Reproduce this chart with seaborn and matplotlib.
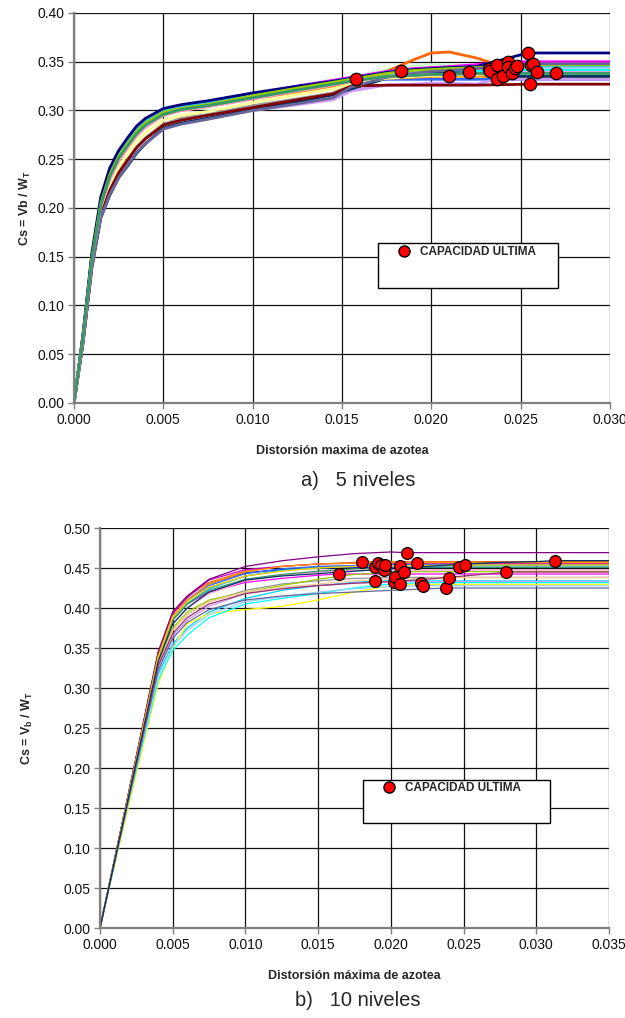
import numpy as np
import pandas as pd
import matplotlib
matplotlib.use("Agg")
import matplotlib.pyplot as plt
from matplotlib.lines import Line2D
from matplotlib.patches import Rectangle
import seaborn as sns

# ---------------- data: panel a) 5 niveles ----------------
knots_a = [0, 0.0005, 0.001, 0.0015, 0.002, 0.0025, 0.003, 0.0035, 0.004, 0.005, 0.006,
           0.0075, 0.010, 0.0125, 0.0145, 0.0155, 0.0175, 0.019, 0.020, 0.021, 0.0225]
xend_a = 0.030
dots_a_x = [0.0158, 0.0183, 0.0210, 0.0221, 0.0232, 0.0233, 0.0237, 0.0237, 0.0240, 0.0243,
            0.0243, 0.0245, 0.0247, 0.0248, 0.0254, 0.0255, 0.0256, 0.0257, 0.0259, 0.0270]
dots_a_y = [0.332, 0.341, 0.335, 0.339, 0.343, 0.341, 0.347, 0.332, 0.335, 0.350,
            0.345, 0.338, 0.344, 0.346, 0.359, 0.327, 0.347, 0.348, 0.339, 0.338]
colors_a = ["#3366FF", "#FFCC00", "#FF9900", "#969696", "#CCFFCC", "#00FFFF", "#FF6600",
            "#CC99FF", "#003366", "#FF00FF", "#008080", "#FFFF99", "#99CCFF", "#33CCCC",
            "#000080", "#800000", "#99CC00", "#666699", "#FF99CC", "#339966"]
curves_a = [
    [0, .066, .147, .203, .232, .251, .264, .276, .285, .296, .301, .305, .313, .320, .326, .330],
    [0, .070, .155, .212, .240, .258, .270, .281, .289, .299, .303, .307, .316, .324, .330, .333, .339],
    [0, .064, .145, .200, .228, .248, .262, .274, .283, .295, .300, .304, .312, .319, .325, .329, .333, .334, .335],
    [0, .062, .140, .192, .218, .237, .250, .262, .272, .286, .292, .296, .305, .312, .318, .327, .335, .338, .339, .339],
    [0, .068, .150, .207, .236, .255, .268, .280, .288, .299, .303, .307, .316, .324, .330, .334, .342, .346, .347, .347, .345],
    [0, .069, .152, .210, .239, .257, .270, .282, .290, .301, .305, .309, .317, .324, .329, .332, .337, .339, .340, .340, .340],
    [0, .066, .148, .205, .234, .253, .267, .279, .287, .298, .302, .306, .314, .321, .327, .331, .340, .352, .359, .360, .354],
    [0, .060, .138, .190, .214, .232, .244, .257, .266, .281, .287, .292, .300, .306, .311, .320, .326, .327, .328, .328, .327],
    [0, .062, .140, .190, .213, .231, .243, .256, .266, .282, .287, .292, .301, .309, .316, .322, .333, .337, .339, .339, .338],
    [0, .068, .150, .208, .238, .256, .269, .281, .289, .300, .304, .308, .317, .325, .331, .334, .340, .343, .344, .345, .347],
    [0, .067, .149, .206, .236, .255, .268, .280, .288, .299, .303, .307, .316, .323, .329, .332, .338, .341, .342, .343, .344],
    [0, .063, .143, .197, .224, .242, .256, .268, .277, .290, .295, .299, .308, .316, .322, .327, .333, .335, .336, .336, .337],
    [0, .066, .147, .204, .233, .252, .265, .277, .286, .297, .301, .305, .314, .322, .328, .331, .337, .340, .341, .342, .343],
    [0, .068, .151, .209, .238, .257, .270, .282, .290, .300, .304, .308, .317, .324, .330, .333, .339, .342, .343, .344, .345],
    [0, .070, .153, .211, .241, .259, .272, .284, .292, .302, .306, .310, .318, .325, .330, .333, .339, .342, .343, .344, .345],
    [0, .061, .140, .193, .218, .236, .249, .262, .271, .285, .290, .295, .303, .311, .317, .325, .326, .326, .326, .326, .326],
    [0, .067, .148, .205, .234, .253, .266, .278, .287, .298, .302, .306, .315, .323, .329, .332, .338, .341, .342, .343, .344],
    [0, .061, .139, .190, .214, .231, .244, .257, .266, .281, .286, .291, .300, .307, .313, .324, .334, .338, .340, .341, .343],
    [0, .065, .146, .201, .229, .248, .262, .274, .283, .295, .300, .304, .312, .320, .326, .330, .335, .336, .337, .337, .338],
    [0, .066, .147, .203, .232, .251, .264, .276, .285, .296, .301, .305, .313, .321, .327, .330, .335, .336, .337, .337, .338],
]

# ---------------- data: panel b) 10 niveles ----------------
knots_b = [0, 0.002, 0.004, 0.005, 0.006, 0.0075, 0.010, 0.0125, 0.015,
           0.0175, 0.020, 0.0225, 0.025, 0.0275, 0.030]
xend_b = 0.035
dots_b_x = [0.0164, 0.0180, 0.0189, 0.0189, 0.0191, 0.0193, 0.0195, 0.0196, 0.0202, 0.0203,
            0.0206, 0.0206, 0.0209, 0.0211, 0.0218, 0.0221, 0.0222, 0.0238, 0.0240, 0.0247,
            0.0251, 0.0279, 0.0313]
dots_b_y = [0.4425, 0.4579, 0.4508, 0.4338, 0.4558, 0.4538, 0.4475, 0.4538, 0.4329, 0.4383,
            0.4529, 0.4296, 0.4454, 0.4692, 0.4567, 0.4317, 0.4279, 0.4250, 0.4379, 0.4508,
            0.4538, 0.4450, 0.4592]
colors_b = ["#FF00FF", "#FF6600", "#0000FF", "#00CCFF", "#CC00CC", "#008080", "#FF99CC",
            "#3366FF", "#CC99FF", "#969696", "#33CCCC", "#FFFF00", "#99CC00", "#800080",
            "#FF9900", "#00FFFF", "#99CCFF", "#666699", "#FFCC99", "#339966", "#FFCC00",
            "#993366", "#003366"]
curves_b = [
    [0, .168, .335, .385, .405, .420, .432, .437, .441],
    [0, .172, .345, .395, .415, .432, .446, .452, .455, .457],
    [0, .170, .338, .388, .410, .430, .444, .448, .450, .451],
    [0, .162, .318, .355, .375, .395, .412, .422, .428, .432],
    [0, .171, .342, .393, .413, .435, .448, .452, .455, .456],
    [0, .169, .337, .385, .405, .425, .440, .447, .451, .453],
    [0, .167, .333, .380, .400, .418, .434, .441, .445, .447],
    [0, .170, .340, .390, .410, .428, .443, .449, .452, .453],
    [0, .163, .325, .365, .385, .402, .418, .425, .428, .431, .433],
    [0, .165, .330, .372, .392, .408, .422, .430, .434, .437, .438],
    [0, .168, .336, .386, .406, .424, .440, .447, .450, .452, .453],
    [0, .155, .305, .350, .380, .393, .398, .402, .410, .420, .428],
    [0, .166, .332, .375, .395, .410, .420, .428, .436, .442, .444],
    [0, .172, .345, .395, .415, .436, .452, .459, .464, .468, .470],
    [0, .170, .340, .390, .410, .430, .445, .452, .455, .456, .457],
    [0, .160, .310, .347, .366, .388, .405, .412, .418, .425, .430],
    [0, .162, .315, .352, .372, .392, .408, .414, .420, .424, .427],
    [0, .163, .322, .362, .382, .398, .410, .415, .418, .420, .422, .424],
    [0, .166, .330, .372, .392, .408, .420, .426, .430, .434, .436, .437],
    [0, .168, .336, .385, .405, .422, .436, .442, .446, .449, .450, .451],
    [0, .169, .338, .388, .408, .426, .440, .446, .450, .452, .453, .453, .454],
    [0, .165, .328, .368, .388, .405, .418, .424, .428, .431, .433, .436, .440, .444],
    [0, .167, .333, .380, .400, .420, .435, .440, .443, .446, .449, .452, .455, .457, .458],
]

legend_label = "CAPACIDAD ÚLTIMA"


def build_df(knots, curves, dx, dy, xend):
    rows = []
    for i, ys in enumerate(curves):
        xs = list(knots[:len(ys)]) + [dx[i], xend]
        yy = list(ys) + [dy[i], dy[i]]
        for x, y in zip(xs, yy):
            rows.append({"curve": i, "x": x, "y": y})
    return pd.DataFrame(rows)


sns.set_theme(style="white")
plt.rcParams["font.family"] = ["Liberation Sans", "DejaVu Sans"]
plt.rcParams["mathtext.fontset"] = "custom"
plt.rcParams["mathtext.rm"] = "Liberation Sans"
plt.rcParams["mathtext.bf"] = "Liberation Sans:bold"

fig = plt.figure(figsize=(6.25, 10.18), dpi=100)
fig.patch.set_facecolor("white")

W, H = 625.0, 1018.0
axA = fig.add_axes([74 / W, 1 - 403 / H, 536 / W, 390 / H])
axB = fig.add_axes([100 / W, 1 - 928 / H, 509 / W, 400 / H])


def style_axis(ax, xlim, ylim, xt, yt):
    ax.set_facecolor("white")
    ax.set_xlim(*xlim)
    ax.set_ylim(*ylim)
    ax.set_xticks(xt)
    ax.set_yticks(yt)
    ax.set_xticklabels([f"{v:.3f}" for v in xt])
    ax.set_yticklabels([f"{v:.2f}" for v in yt])
    ax.grid(True, color="#111111", lw=0.9)
    ax.set_axisbelow(True)
    for s in ["top", "right"]:
        ax.spines[s].set_visible(False)
    for s in ["left", "bottom"]:
        ax.spines[s].set_color("#808080")
        ax.spines[s].set_linewidth(1.6)
    ax.tick_params(axis="both", which="both", direction="out", length=4,
                   width=1, color="#808080", labelsize=10, labelcolor="#111111",
                   bottom=True, left=True, pad=3)


# ---- panel a ----
dfA = build_df(knots_a, curves_a, dots_a_x, dots_a_y, xend_a)
sns.lineplot(data=dfA, x="x", y="y", hue="curve", palette=colors_a,
             estimator=None, sort=False, lw=2.0, legend=False, ax=axA, zorder=2)
sns.scatterplot(x=dots_a_x, y=dots_a_y, color="#FF0000", edgecolor="black",
                linewidth=0.9, s=80, ax=axA, zorder=5, legend=False)
style_axis(axA, (0, 0.030), (0, 0.40),
           [0, 0.005, 0.010, 0.015, 0.020, 0.025, 0.030],
           [0, 0.05, 0.10, 0.15, 0.20, 0.25, 0.30, 0.35, 0.40])
axA.set_xlabel("Distorsión maxima de azotea", fontsize=9, fontweight="bold", labelpad=13)
axA.set_ylabel(r"Cs = Vb / W$_\mathbf{T}$", fontsize=9, fontweight="bold", labelpad=3)

# ---- panel b ----
dfB = build_df(knots_b, curves_b, dots_b_x, dots_b_y, xend_b)
sns.lineplot(data=dfB, x="x", y="y", hue="curve", palette=colors_b,
             estimator=None, sort=False, lw=0.9, legend=False, ax=axB, zorder=2)
sns.scatterplot(x=dots_b_x, y=dots_b_y, color="#FF0000", edgecolor="black",
                linewidth=0.9, s=72, ax=axB, zorder=5, legend=False)
style_axis(axB, (0, 0.035), (0, 0.50),
           [0, 0.005, 0.010, 0.015, 0.020, 0.025, 0.030, 0.035],
           [0, 0.05, 0.10, 0.15, 0.20, 0.25, 0.30, 0.35, 0.40, 0.45, 0.50])
axB.set_xlabel("Distorsión máxima de azotea", fontsize=9, fontweight="bold", labelpad=13)
axB.set_ylabel(r"Cs = V$_\mathbf{b}$ / W$_\mathbf{T}$", fontsize=9, fontweight="bold", labelpad=20)


def add_legend(ax, box, anchor):
    x0, y0, w, h = box
    ax.add_patch(Rectangle((x0, y0), w, h, transform=ax.transAxes, facecolor="white",
                           edgecolor="black", lw=1.0, zorder=9, clip_on=False))
    h1 = Line2D([], [], linestyle="none", marker="o", markersize=8,
                markerfacecolor="#FF0000", markeredgecolor="black", markeredgewidth=1)
    leg = ax.legend([h1], [legend_label], loc="upper left", bbox_to_anchor=anchor,
                    frameon=False, prop={"weight": "bold", "size": 8.5}, borderpad=0,
                    handletextpad=0.65, handlelength=1.4, borderaxespad=0)
    leg.set_zorder(10)


add_legend(axA, ((378 - 74) / 536, (403 - 288) / 390, 180 / 536, 45 / 390),
           ((396 - 74) / 536, (403 - 246) / 390))
add_legend(axB, ((363 - 100) / 509, (928 - 823) / 400, 187 / 509, 43 / 400),
           ((381 - 100) / 509, (928 - 782) / 400))

fig.text(358 / W, 1 - 481 / H, "a)   5 niveles", ha="center", va="center", fontsize=14.5)
fig.text(358 / W, 1 - 1000 / H, "b)   10 niveles", ha="center", va="center", fontsize=14.5)

fig.savefig("out.png", dpi=100, facecolor="white")
